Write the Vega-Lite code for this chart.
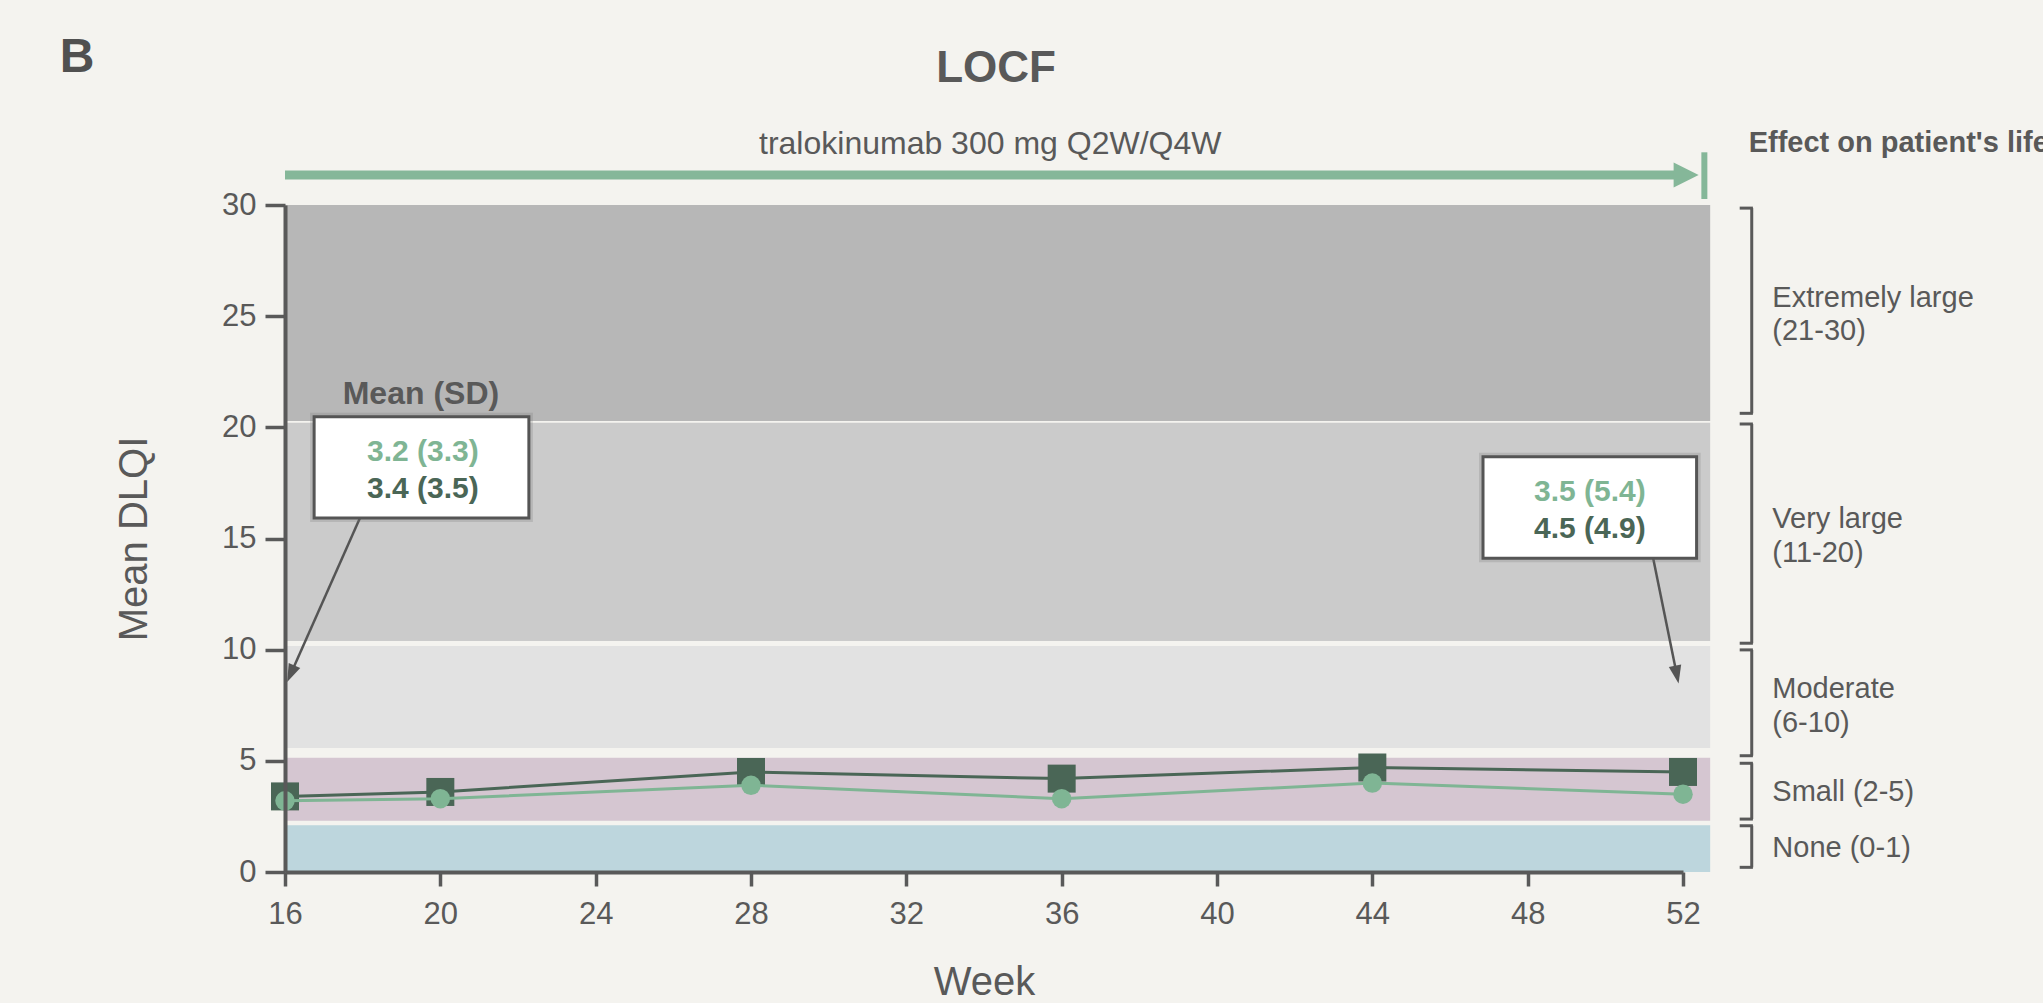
{
  "$schema": "https://vega.github.io/schema/vega-lite/v6.json",
  "width": 1398,
  "height": 667,
  "autosize": {"type": "none"},
  "padding": {"left": 285, "top": 205, "right": 360, "bottom": 131},
  "background": "#f4f3ef",
  "config": {
    "view": {"stroke": null},
    "font": "Liberation Sans"
  },
  "datasets": {
    "bands": [
      {"band": "None", "lo": 0, "hi": 2.1},
      {"band": "Small", "lo": 2.3, "hi": 5.14},
      {"band": "Moderate", "lo": 5.58, "hi": 10.17},
      {"band": "Very large", "lo": 10.39, "hi": 20.21},
      {"band": "Extremely large", "lo": 20.29, "hi": 30}
    ],
    "brackets": [
      {"band": "Extremely large", "lo": 20.63, "hi": 29.86},
      {"band": "Very large", "lo": 10.29, "hi": 20.15},
      {"band": "Moderate", "lo": 5.23, "hi": 9.99},
      {"band": "Small", "lo": 2.38, "hi": 4.89},
      {"band": "None", "lo": 0.21, "hi": 2.08}
    ],
    "series": [
      {"group": "Group 1", "week": 16, "dlqi": 3.4},
      {"group": "Group 1", "week": 20, "dlqi": 3.6},
      {"group": "Group 1", "week": 28, "dlqi": 4.5},
      {"group": "Group 1", "week": 36, "dlqi": 4.2},
      {"group": "Group 1", "week": 44, "dlqi": 4.7},
      {"group": "Group 1", "week": 52, "dlqi": 4.5},
      {"group": "Group 2", "week": 16, "dlqi": 3.2},
      {"group": "Group 2", "week": 20, "dlqi": 3.3},
      {"group": "Group 2", "week": 28, "dlqi": 3.9},
      {"group": "Group 2", "week": 36, "dlqi": 3.3},
      {"group": "Group 2", "week": 44, "dlqi": 4.0},
      {"group": "Group 2", "week": 52, "dlqi": 3.5}
    ],
    "boxes": [
      {"x1": 16.75, "x2": 22.28, "y1": 15.92, "y2": 20.48},
      {"x1": 46.85, "x2": 52.35, "y1": 14.11, "y2": 18.68}
    ],
    "arrows": [
      {"x1": 17.93, "y1": 15.92, "x2": 16.15, "y2": 8.92, "ang": 204},
      {"x1": 51.22, "y1": 14.21, "x2": 51.84, "y2": 8.88, "ang": 168.5}
    ],
    "texts": [
      {"kind": "panel", "x": 10.2, "y": 36.0, "label": "B"},
      {"kind": "title", "x": 34.31, "y": 35.55, "label": "LOCF"},
      {"kind": "treat", "x": 34.16, "y": 32.3, "label": "tralokinumab  300 mg Q2W/Q4W"},
      {"kind": "effect", "x": 53.69, "y": 32.4, "label": "Effect on patient's life"},
      {"kind": "band", "x": 54.3, "y": 25.43, "label": "Extremely large"},
      {"kind": "band", "x": 54.3, "y": 23.93, "label": "(21-30)"},
      {"kind": "band", "x": 54.3, "y": 15.47, "label": "Very large"},
      {"kind": "band", "x": 54.3, "y": 13.95, "label": "(11-20)"},
      {"kind": "band", "x": 54.3, "y": 7.81, "label": "Moderate"},
      {"kind": "band", "x": 54.3, "y": 6.31, "label": "(6-10)"},
      {"kind": "band", "x": 54.3, "y": 3.19, "label": "Small (2-5)"},
      {"kind": "band", "x": 54.3, "y": 0.69, "label": "None (0-1)"},
      {"kind": "meansd", "x": 19.5, "y": 21.05, "label": "Mean (SD)"},
      {"kind": "light", "x": 19.55, "y": 18.5, "label": "3.2 (3.3)"},
      {"kind": "dark", "x": 19.55, "y": 16.81, "label": "3.4 (3.5)"},
      {"kind": "light", "x": 49.6, "y": 16.7, "label": "3.5 (5.4)"},
      {"kind": "dark", "x": 49.6, "y": 15.01, "label": "4.5 (4.9)"}
    ]
  },
  "layer": [
    {
      "data": {"name": "bands"},
      "mark": {"type": "rect"},
      "encoding": {
        "x": {
          "datum": 16,
          "type": "quantitative",
          "scale": {"domain": [16, 52], "nice": false, "zero": false},
          "axis": {
            "title": "Week",
            "values": [16, 20, 24, 28, 32, 36, 40, 44, 48, 52],
            "labelFlush": false,
            "grid": false,
            "zindex": 1,
            "domainColor": "#595959",
            "domainWidth": 4,
            "tickColor": "#595959",
            "tickWidth": 3.5,
            "tickSize": 14,
            "labelColor": "#595959",
            "labelFont": "Liberation Sans",
            "labelFontSize": 31,
            "labelPadding": 13,
            "titleColor": "#595959",
            "titleFont": "Liberation Sans",
            "titleFontSize": 40,
            "titleFontWeight": "normal",
            "titlePadding": 33
          }
        },
        "x2": {"datum": 52.7},
        "y": {
          "field": "lo",
          "type": "quantitative",
          "scale": {"domain": [0, 30], "nice": false, "zero": true},
          "axis": {
            "title": "Mean DLQI",
            "values": [0, 5, 10, 15, 20, 25, 30],
            "grid": false,
            "zindex": 1,
            "domainColor": "#595959",
            "domainWidth": 4,
            "tickColor": "#595959",
            "tickWidth": 3.5,
            "tickSize": 20,
            "labelColor": "#595959",
            "labelFont": "Liberation Sans",
            "labelFontSize": 31,
            "labelPadding": 9,
            "titleColor": "#595959",
            "titleFont": "Liberation Sans",
            "titleFontSize": 40,
            "titleFontWeight": "normal",
            "titlePadding": 67
          }
        },
        "y2": {"field": "hi"},
        "color": {
          "field": "band",
          "type": "nominal",
          "scale": {
            "domain": ["None", "Small", "Moderate", "Very large", "Extremely large"],
            "range": ["#bdd6dd", "#d5c6d1", "#e2e2e2", "#cbcbcb", "#b7b7b7"]
          },
          "legend": null
        }
      }
    },
    {
      "data": {"name": "series"},
      "transform": [{"filter": "datum.group === 'Group 1'"}],
      "mark": {"type": "line", "color": "#4a6656", "strokeWidth": 3},
      "encoding": {
        "x": {"field": "week", "type": "quantitative"},
        "y": {"field": "dlqi", "type": "quantitative"}
      }
    },
    {
      "data": {"name": "series"},
      "transform": [{"filter": "datum.group === 'Group 1'"}],
      "mark": {"type": "point", "shape": "square", "filled": true, "opacity": 1, "color": "#4a6656", "size": 784},
      "encoding": {
        "x": {"field": "week", "type": "quantitative"},
        "y": {"field": "dlqi", "type": "quantitative"}
      }
    },
    {
      "data": {"name": "series"},
      "transform": [{"filter": "datum.group === 'Group 2'"}],
      "mark": {"type": "line", "color": "#7fb594", "strokeWidth": 3},
      "encoding": {
        "x": {"field": "week", "type": "quantitative"},
        "y": {"field": "dlqi", "type": "quantitative"}
      }
    },
    {
      "data": {"name": "series"},
      "transform": [{"filter": "datum.group === 'Group 2'"}],
      "mark": {"type": "point", "shape": "circle", "filled": true, "opacity": 1, "color": "#7fb594", "size": 380},
      "encoding": {
        "x": {"field": "week", "type": "quantitative"},
        "y": {"field": "dlqi", "type": "quantitative"}
      }
    },
    {
      "data": {"name": "brackets"},
      "mark": {"type": "rule", "color": "#595959", "strokeWidth": 3},
      "encoding": {
        "x": {"datum": 53.77, "type": "quantitative"},
        "y": {"field": "lo", "type": "quantitative"},
        "y2": {"field": "hi"}
      }
    },
    {
      "data": {"name": "brackets"},
      "mark": {"type": "rule", "color": "#595959", "strokeWidth": 3},
      "encoding": {
        "x": {"datum": 53.46, "type": "quantitative"},
        "x2": {"datum": 53.8},
        "y": {"field": "lo", "type": "quantitative"}
      }
    },
    {
      "data": {"name": "brackets"},
      "mark": {"type": "rule", "color": "#595959", "strokeWidth": 3},
      "encoding": {
        "x": {"datum": 53.46, "type": "quantitative"},
        "x2": {"datum": 53.8},
        "y": {"field": "hi", "type": "quantitative"}
      }
    },
    {
      "data": {"values": [{"label": "treatment"}]},
      "mark": {"type": "rule", "color": "#85b799", "strokeWidth": 9},
      "encoding": {
        "x": {"datum": 16, "type": "quantitative"},
        "x2": {"datum": 52.08},
        "y": {"datum": 31.35, "type": "quantitative"}
      }
    },
    {
      "data": {"values": [{"label": "treatment"}]},
      "mark": {"type": "point", "shape": "M-1,-1L1,0L-1,1Z", "filled": true, "opacity": 1, "color": "#85b799", "size": 625},
      "encoding": {
        "x": {"datum": 52.08, "type": "quantitative"},
        "y": {"datum": 31.35, "type": "quantitative"}
      }
    },
    {
      "data": {"values": [{"label": "treatment"}]},
      "mark": {"type": "rule", "color": "#85b799", "strokeWidth": 6},
      "encoding": {
        "x": {"datum": 52.55, "type": "quantitative"},
        "y": {"datum": 30.27, "type": "quantitative"},
        "y2": {"datum": 32.37}
      }
    },
    {
      "data": {"name": "arrows"},
      "mark": {"type": "rule", "color": "#555555", "strokeWidth": 2.5},
      "encoding": {
        "x": {"field": "x1", "type": "quantitative"},
        "y": {"field": "y1", "type": "quantitative"},
        "x2": {"field": "x2"},
        "y2": {"field": "y2"}
      }
    },
    {
      "data": {"name": "arrows"},
      "mark": {"type": "point", "shape": "M0,-1L0.7,1L-0.7,1Z", "filled": true, "opacity": 1, "color": "#555555", "size": 324},
      "encoding": {
        "x": {"field": "x2", "type": "quantitative"},
        "y": {"field": "y2", "type": "quantitative"},
        "angle": {"field": "ang", "type": "quantitative", "scale": null}
      }
    },
    {
      "data": {"name": "boxes"},
      "mark": {"type": "rect", "fill": null, "stroke": "#777777", "strokeWidth": 8, "strokeOpacity": 0.25},
      "encoding": {
        "x": {"field": "x1", "type": "quantitative"},
        "x2": {"field": "x2"},
        "y": {"field": "y1", "type": "quantitative"},
        "y2": {"field": "y2"}
      }
    },
    {
      "data": {"name": "boxes"},
      "mark": {"type": "rect", "fill": "#ffffff", "stroke": "#555555", "strokeWidth": 3},
      "encoding": {
        "x": {"field": "x1", "type": "quantitative"},
        "x2": {"field": "x2"},
        "y": {"field": "y1", "type": "quantitative"},
        "y2": {"field": "y2"}
      }
    },
    {
      "data": {"name": "texts"},
      "transform": [{"filter": "datum.kind === 'panel'"}],
      "mark": {"type": "text", "align": "left", "baseline": "alphabetic", "fontSize": 48, "fontWeight": "bold", "color": "#505050"},
      "encoding": {
        "x": {"field": "x", "type": "quantitative"},
        "y": {"field": "y", "type": "quantitative"},
        "text": {"field": "label"}
      }
    },
    {
      "data": {"name": "texts"},
      "transform": [{"filter": "datum.kind === 'title'"}],
      "mark": {"type": "text", "align": "center", "baseline": "alphabetic", "fontSize": 44, "fontWeight": "bold", "color": "#595959"},
      "encoding": {
        "x": {"field": "x", "type": "quantitative"},
        "y": {"field": "y", "type": "quantitative"},
        "text": {"field": "label"}
      }
    },
    {
      "data": {"name": "texts"},
      "transform": [{"filter": "datum.kind === 'treat'"}],
      "mark": {"type": "text", "align": "center", "baseline": "alphabetic", "fontSize": 32, "color": "#595959"},
      "encoding": {
        "x": {"field": "x", "type": "quantitative"},
        "y": {"field": "y", "type": "quantitative"},
        "text": {"field": "label"}
      }
    },
    {
      "data": {"name": "texts"},
      "transform": [{"filter": "datum.kind === 'effect'"}],
      "mark": {"type": "text", "align": "left", "baseline": "alphabetic", "fontSize": 29, "fontWeight": "bold", "color": "#595959"},
      "encoding": {
        "x": {"field": "x", "type": "quantitative"},
        "y": {"field": "y", "type": "quantitative"},
        "text": {"field": "label"}
      }
    },
    {
      "data": {"name": "texts"},
      "transform": [{"filter": "datum.kind === 'band'"}],
      "mark": {"type": "text", "align": "left", "baseline": "alphabetic", "fontSize": 29, "color": "#595959"},
      "encoding": {
        "x": {"field": "x", "type": "quantitative"},
        "y": {"field": "y", "type": "quantitative"},
        "text": {"field": "label"}
      }
    },
    {
      "data": {"name": "texts"},
      "transform": [{"filter": "datum.kind === 'meansd'"}],
      "mark": {"type": "text", "align": "center", "baseline": "alphabetic", "fontSize": 32, "fontWeight": "bold", "color": "#595959"},
      "encoding": {
        "x": {"field": "x", "type": "quantitative"},
        "y": {"field": "y", "type": "quantitative"},
        "text": {"field": "label"}
      }
    },
    {
      "data": {"name": "texts"},
      "transform": [{"filter": "datum.kind === 'light'"}],
      "mark": {"type": "text", "align": "center", "baseline": "alphabetic", "fontSize": 30, "fontWeight": "bold", "color": "#7fb594"},
      "encoding": {
        "x": {"field": "x", "type": "quantitative"},
        "y": {"field": "y", "type": "quantitative"},
        "text": {"field": "label"}
      }
    },
    {
      "data": {"name": "texts"},
      "transform": [{"filter": "datum.kind === 'dark'"}],
      "mark": {"type": "text", "align": "center", "baseline": "alphabetic", "fontSize": 30, "fontWeight": "bold", "color": "#4a6656"},
      "encoding": {
        "x": {"field": "x", "type": "quantitative"},
        "y": {"field": "y", "type": "quantitative"},
        "text": {"field": "label"}
      }
    }
  ]
}
